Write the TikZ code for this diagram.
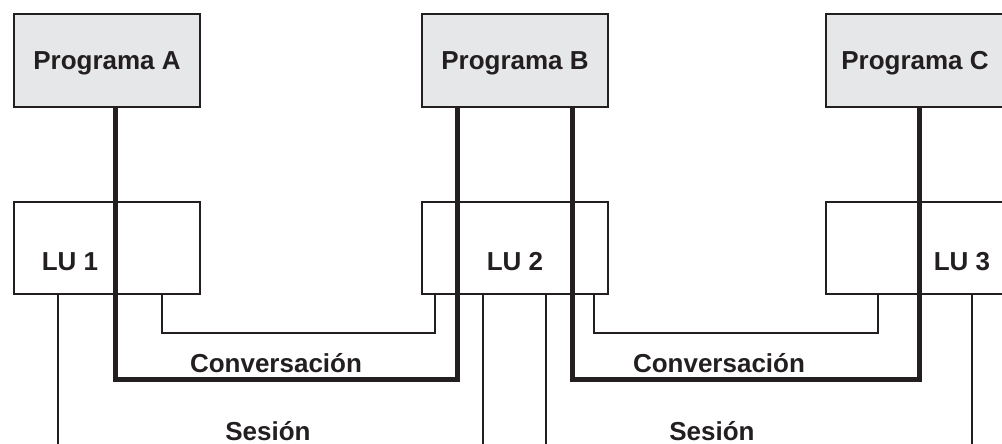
\documentclass[tikz,border=0pt]{standalone}
\usepackage{fontspec}
\setmainfont{Liberation Sans}
\begin{document}
\begin{tikzpicture}[x=1pt,y=-1pt,
  ink/.style={color={rgb,255:red,35;green,31;blue,32}},
  progbox/.style={draw={rgb,255:red,35;green,31;blue,32}, line width=2.2pt, fill={rgb,255:red,230;green,231;blue,232}, minimum width=186pt, minimum height=93pt, inner sep=0pt, outer sep=0pt},
  lubox/.style={draw={rgb,255:red,35;green,31;blue,32}, line width=2.2pt, fill=white, minimum width=186pt, minimum height=92pt, inner sep=0pt, outer sep=0pt},
  lbl/.style={font=\fontsize{26}{30}\bfseries\selectfont, text={rgb,255:red,35;green,31;blue,32}, inner sep=0pt, anchor=base},
  conv/.style={draw={rgb,255:red,35;green,31;blue,32}, line width=5pt},
  thin/.style={draw={rgb,255:red,35;green,31;blue,32}, line width=2pt}
]
\useasboundingbox (0,0) rectangle (1002,444);
\clip (0,0) rectangle (1002,444);
% boxes
\node[progbox] (PA) at (107,60.5) {};
\node[progbox] (PB) at (515,60.5) {};
\node[progbox] (PC) at (919,60.5) {};
\node[lubox] (L1) at (107,248) {};
\node[lubox] (L2) at (515,248) {};
\node[lubox] (L3) at (919,248) {};
% labels
\node[lbl] (tA) at (107,70) {Programa A};
\node[lbl] (tB) at (515,70) {Programa B};
\node[lbl] (tC) at (915,70) {Programa C};
\node[lbl] (t1) at (70,270) {LU 1};
\node[lbl] (t2) at (515,270) {LU 2};
\node[lbl] (t3) at (962,270) {LU 3};
% thin links between LUs
\draw[thin] ([xshift=148pt]L1.south west) -- ++(0,39) -| ([xshift=421pt]L1.south west |- L2.south);
\draw[thin] ([xshift=172pt]L2.south west) -- ++(0,39) -| ([xshift=52pt]L3.south west |- L3.south);
% session lines
\coordinate (s1) at (58,450);
\coordinate (s2) at (483,450);
\coordinate (s3) at (546,450);
\coordinate (s4) at (972,450);
\draw[thin] (L1.south -| s1) -- (s1);
\draw[thin] (L2.south -| s2) -- (s2);
\draw[thin] (L2.south -| s3) -- (s3);
\draw[thin] (L3.south -| s4) -- (s4);
% conversations (thick)
\draw[conv] ([xshift=101pt]PA.south west) -- ++(0,272) -| ([xshift=35pt]PB.south west);
\draw[conv] ([xshift=150pt]PB.south west) -- ++(0,272) -| ([xshift=93pt]PC.south west);
% texts
\node[lbl] (c1) at (276,372) {Conversación};
\node[lbl] (c2) at (719,372) {Conversación};
\node[lbl] (e1) at (268,440) {Sesión};
\node[lbl] (e2) at (712,440) {Sesión};
\end{tikzpicture}
\end{document}
